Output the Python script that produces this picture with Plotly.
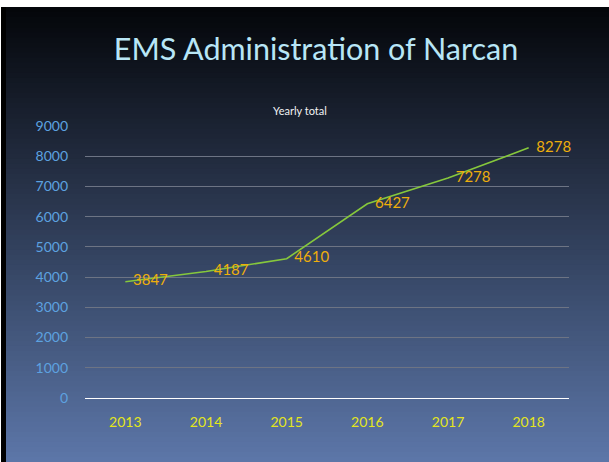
import plotly.graph_objects as go

years = ["2013", "2014", "2015", "2016", "2017", "2018"]
totals = [3847, 4187, 4610, 6427, 7278, 8278]
y_ticks = [0, 1000, 2000, 3000, 4000, 5000, 6000, 7000, 8000, 9000]

W, H = 609, 462
fig = go.Figure()

fig.add_trace(go.Scatter(
    x=years, y=totals, mode="lines+text",
    line=dict(color="#86c83c", width=1.6),
    text=["  " + str(v) for v in totals], textposition="middle right",
    textfont=dict(family="Lato", size=15, color="#eeae0c"),
    cliponaxis=False, hoverinfo="skip", showlegend=False,
))

# gradient background
shapes = []
top_c = (4, 6, 10)
bot_c = (92, 118, 168)
n = 90
y0 = 7
for i in range(n):
    f = i / (n - 1)
    c = tuple(int(round(top_c[k] + (bot_c[k] - top_c[k]) * f)) for k in range(3))
    ya = y0 + (H - y0) * i / n
    yb = y0 + (H - y0) * (i + 1) / n + 2
    shapes.append(dict(type="rect", xref="paper", yref="paper", layer="below",
                       x0=(1 - 85) / 484, x1=(W + 2 - 85) / 484,
                       y0=(398 - min(yb, H + 2)) / 272, y1=(398 - ya) / 272,
                       line=dict(width=0), fillcolor="rgb(%d,%d,%d)" % c))
shapes.append(dict(type="rect", xref="paper", yref="paper", layer="below",
                   x0=(1 - 85) / 484, x1=(6 - 85) / 484,
                   y0=(398 - H - 2) / 272, y1=(398 - 7) / 272,
                   line=dict(width=0), fillcolor="#000000"))

fig.update_layout(
    width=W, height=H,
    margin=dict(l=85, r=40, t=126, b=64, autoexpand=False),
    paper_bgcolor="white", plot_bgcolor="rgba(0,0,0,0)",
    shapes=shapes,
    title=dict(text="EMS Administration of Narcan", xref="paper", x=(316 - 85) / 484,
               xanchor="center", yref="container", y=1 - 49 / H, yanchor="middle",
               font=dict(family="Lato", size=30.5, color="#b8e6f6")),
    annotations=[dict(text="Yearly total", xref="paper", yref="paper",
                      x=(300 - 85) / 484, y=(398 - 110) / 272, showarrow=False,
                      xanchor="center", yanchor="middle",
                      font=dict(family="Lato", size=11, color="#f2f2f2"))],
    xaxis=dict(type="category", range=[-0.5, 5.5], showgrid=False, showline=False,
               zeroline=False, automargin=False,
               tickfont=dict(family="Lato", size=14, color="#e4e61c"),
               ticks="", ticklabelstandoff=14, fixedrange=True),
    yaxis=dict(range=[0, 9000], tickvals=y_ticks, showgrid=True, automargin=False,
               gridcolor="#6d7484", gridwidth=1, zeroline=True, zerolinecolor="#ffffff",
               zerolinewidth=1.3, showline=False,
               tickfont=dict(family="Lato", size=14, color="#5da2e0"),
               ticks="", ticklabelstandoff=16, fixedrange=True),
)

fig.write_html("out.html", config={"displayModeBar": False},
               post_script="document.body.style.margin='0';document.body.style.overflow='hidden';")
